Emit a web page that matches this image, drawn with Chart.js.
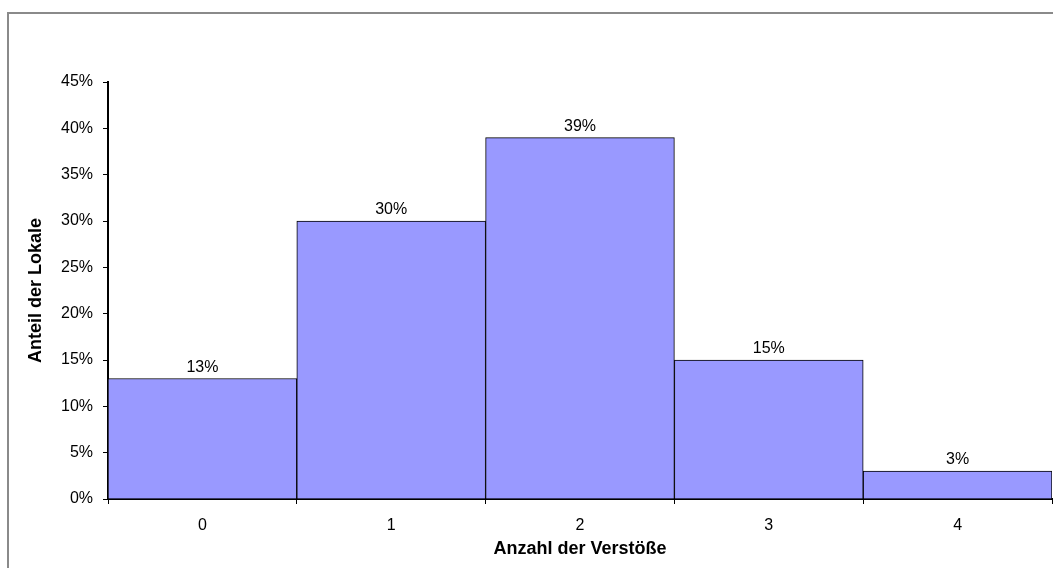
<!DOCTYPE html>
<html>
<head>
<meta charset="utf-8">
<script src="https://cdn.jsdelivr.net/npm/chart.js@4/dist/chart.umd.min.js"></script>
<style>
    html, body { margin: 0; padding: 0; background: #fff; overflow: hidden; }
    #wrap { position: relative; width: 1053px; height: 568px; }
    #frame {
        position: absolute; left: 7px; top: 12px; width: 1100px; height: 600px;
        border: 2px solid #8a8a8a; pointer-events: none;
    }
</style>
</head>
<body>
<div id="wrap">
    <canvas id="chart" width="1053" height="568"></canvas>
    <div id="frame"></div>
</div>
<script>
const categories = ['0', '1', '2', '3', '4'];
const shares = [13, 30, 39, 15, 3];
const yTicks = [0, 5, 10, 15, 20, 25, 30, 35, 40, 45];

const fontFamily = '"Liberation Sans", Arial, Helvetica, sans-serif';
Chart.defaults.font.family = fontFamily;
Chart.defaults.color = '#000';

// percent labels over each bar
const barLabels = {
    id: 'barLabels',
    afterDatasetsDraw(chart) {
        const ctx = chart.ctx;
        const meta = chart.getDatasetMeta(0);
        ctx.save();
        ctx.font = '16px ' + fontFamily;
        ctx.fillStyle = '#000';
        ctx.textAlign = 'center';
        ctx.textBaseline = 'alphabetic';
        meta.data.forEach((bar, i) => {
            ctx.fillText(shares[i] + '%', bar.x, bar.y - 7);
        });
        ctx.restore();
    }
};

new Chart(document.getElementById('chart'), {
    type: 'bar',
    data: {
        labels: categories,
        datasets: [{
            data: shares,
            backgroundColor: '#9999FF',
            borderColor: '#000',
            borderWidth: 1,
            categoryPercentage: 1,
            barPercentage: 1
        }]
    },
    options: {
        responsive: false,
        animation: false,
        layout: {
            padding: {top: 82, right: 1, left: 0, bottom: 0}
        },
        plugins: {
            legend: {display: false},
            tooltip: {enabled: false}
        },
        scales: {
            x: {
                afterFit: (scale) => { scale.height = 69 },
                grid: {
                    display: true,
                    offset: true,
                    drawOnChartArea: false,
                    tickLength: 5,
                    color: '#000'
                },
                border: {color: '#000', width: 2},
                ticks: {
                    font: {size: 16},
                    padding: 12,
                    color: '#000'
                },
                title: {
                    display: true,
                    text: 'Anzahl der Verstöße',
                    font: {size: 18, weight: 'bold'},
                    padding: {top: 0, bottom: 8},
                    color: '#000'
                }
            },
            y: {
                min: 0,
                max: 45,
                afterFit: (scale) => { scale.width = 108 },
                afterBuildTicks: (scale) => {
                    scale.ticks = yTicks.map(v => ({value: v}))
                },
                grid: {
                    display: true,
                    drawOnChartArea: false,
                    tickLength: 5,
                    color: '#000'
                },
                border: {color: '#000', width: 2},
                ticks: {
                    font: {size: 16},
                    padding: 10,
                    color: '#000',
                    callback: (v) => v + '%'
                },
                title: {
                    display: true,
                    text: 'Anteil der Lokale',
                    font: {size: 18, weight: 'bold'},
                    padding: {top: 25, bottom: 0},
                    color: '#000'
                }
            }
        }
    },
    plugins: [barLabels]
});
</script>
</body>
</html>
